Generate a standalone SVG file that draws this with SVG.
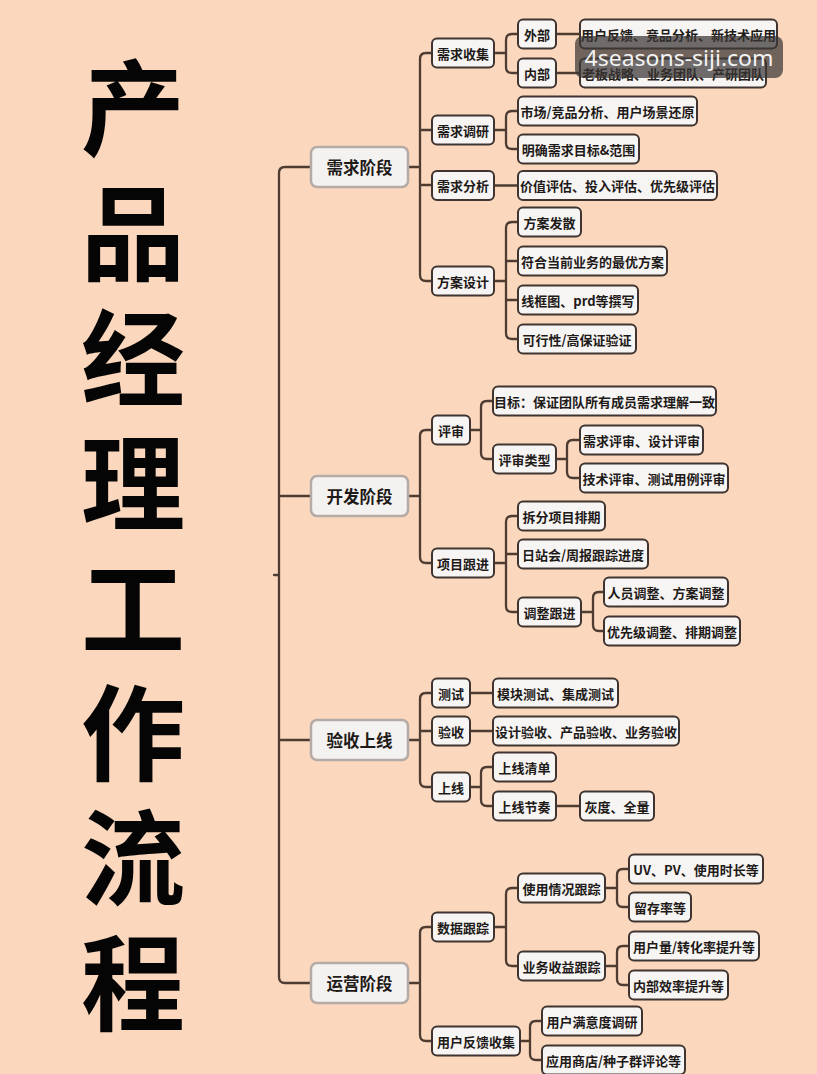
<svg xmlns="http://www.w3.org/2000/svg" width="817" height="1074" viewBox="0 0 817 1074">
<style>
.t{font-family:"Noto Sans CJK SC","Noto Sans",sans-serif;font-weight:700;fill:#1e1a18;text-anchor:middle;dominant-baseline:central}
.n{fill:#f7f5f4;stroke:#3f3430;stroke-width:2}
.s{fill:#f4f2f1;stroke:#b5aba6;stroke-width:2.5}
.nt{font-size:13px}
.st{font-size:16.5px}
.title{font-family:"Noto Sans CJK SC",sans-serif;font-weight:700;font-size:104px;fill:#050505;writing-mode:vertical-rl;letter-spacing:21px}
.c{fill:none;stroke:#4e3b31;stroke-width:2.3;stroke-linecap:round}
</style>
<rect width="817" height="1074" fill="#fbd8bd"/>
<g id="title">
<text class="title" x="133" y="56">产品经理工作流程</text>
</g>
<g id="connectors" class="c">
<path d="M311,167 H285 Q279,167 279,173 V977 Q279,983 285,983 H311 M279,496 H311 M279,740 H311 M274,575 H279"/>
<path d="M408,167 H420 M432,53 H426 Q420,53 420,59 V275 Q420,281 426,281 H432 M420,130 H432 M420,185 H432"/>
<path d="M494,53 H506 M518,34 H512 Q506,34 506,40 V67 Q506,73 512,73 H518 M556,34 H580 M556,73 H580"/>
<path d="M494,130 H506 M518,111 H512 Q506,111 506,117 V143 Q506,149 512,149 H518"/>
<path d="M494,185.5 H518"/>
<path d="M494,281 H506 M518,222 H512 Q506,222 506,228 V333 Q506,339 512,339 H518 M506,261 H518 M506,300 H518"/>
<path d="M408,496 H420 M432,430 H426 Q420,430 420,436 V557 Q420,563 426,563 H432"/>
<path d="M470,430 H481 M493,401 H487 Q481,401 481,407 V453 Q481,459 487,459 H493"/>
<path d="M556,459 H567 M580,440 H573 Q567,440 567,446 V472 Q567,478 573,478 H580"/>
<path d="M494,563 H506 M518,516 H512 Q506,516 506,522 V606 Q506,612 512,612 H518 M506,554 H518"/>
<path d="M581,612 H593 M604,592 H599 Q593,592 593,598 V625 Q593,631 599,631 H604"/>
<path d="M408,740 H420 M432,693 H426 Q420,693 420,699 V781 Q420,787 426,787 H432 M420,731 H432"/>
<path d="M470,693 H493 M470,731 H493"/>
<path d="M470,787 H481 M493,767 H487 Q481,767 481,773 V800 Q481,806 487,806 H493 M556,806 H580"/>
<path d="M408,983 H420 M432,927 H426 Q420,927 420,933 V1035 Q420,1041 426,1041 H432"/>
<path d="M494,927 H506 M518,888 H512 Q506,888 506,894 V960 Q506,966 512,966 H518"/>
<path d="M605,888 H617 M629,869 H623 Q617,869 617,875 V901 Q617,907 623,907 H629"/>
<path d="M605,966 H617 M629,946 H623 Q617,946 617,952 V979 Q617,985 623,985 H629"/>
<path d="M520,1041 H530 M542,1021 H536 Q530,1021 530,1027 V1054 Q530,1060 536,1060 H542"/>
</g>
<g id="s1"><rect class="s" x="311" y="147" width="97" height="40" rx="6"/><text class="t st" x="359.5" y="167">需求阶段</text></g>
<g id="s2"><rect class="s" x="311" y="476" width="97" height="40" rx="6"/><text class="t st" x="359.5" y="496">开发阶段</text></g>
<g id="s3"><rect class="s" x="311" y="720" width="97" height="40" rx="6"/><text class="t st" x="359.5" y="740">验收上线</text></g>
<g id="s4"><rect class="s" x="311" y="963" width="97" height="40" rx="6"/><text class="t st" x="359.5" y="983">运营阶段</text></g>
<g id="n_xqsj"><rect class="n" x="432" y="38.5" width="62" height="29" rx="5"/><text class="t nt" x="463" y="53">需求收集</text></g>
<g id="n_xqdy"><rect class="n" x="432" y="115.5" width="62" height="29" rx="5"/><text class="t nt" x="463" y="130">需求调研</text></g>
<g id="n_xqfx"><rect class="n" x="432" y="171" width="62" height="29" rx="5"/><text class="t nt" x="463" y="185.5">需求分析</text></g>
<g id="n_fasj"><rect class="n" x="432" y="266.5" width="62" height="29" rx="5"/><text class="t nt" x="463" y="281">方案设计</text></g>
<g id="n_ps"><rect class="n" x="432" y="415.5" width="38" height="29" rx="5"/><text class="t nt" x="451" y="430">评审</text></g>
<g id="n_xmgj"><rect class="n" x="432" y="548.5" width="62" height="29" rx="5"/><text class="t nt" x="463" y="563">项目跟进</text></g>
<g id="n_cs"><rect class="n" x="432" y="678.5" width="38" height="29" rx="5"/><text class="t nt" x="451" y="693">测试</text></g>
<g id="n_ys"><rect class="n" x="432" y="716.5" width="38" height="29" rx="5"/><text class="t nt" x="451" y="731">验收</text></g>
<g id="n_sx"><rect class="n" x="432" y="772.5" width="38" height="29" rx="5"/><text class="t nt" x="451" y="787">上线</text></g>
<g id="n_sjgz"><rect class="n" x="432" y="912.5" width="62" height="29" rx="5"/><text class="t nt" x="463" y="927">数据跟踪</text></g>
<g id="n_yhfk"><rect class="n" x="432" y="1026.5" width="88" height="29" rx="5"/><text class="t nt" x="476" y="1041">用户反馈收集</text></g>
<g id="n_wb"><rect class="n" x="518" y="19.5" width="38" height="29" rx="5"/><text class="t nt" x="537" y="34">外部</text></g>
<g id="n_nb"><rect class="n" x="518" y="58.5" width="38" height="29" rx="5"/><text class="t nt" x="537" y="73">内部</text></g>
<g id="n_wb1"><rect class="n" x="580" y="19.5" width="197" height="29" rx="5"/><text class="t nt" x="678.5" y="34">用户反馈、竞品分析、新技术应用</text></g>
<g id="n_nb1"><rect class="n" x="580" y="58.5" width="186" height="29" rx="5"/><text class="t nt" x="673" y="73">老板战略、业务团队、产研团队</text></g>
<g id="n_dy1"><rect class="n" x="518" y="96.5" width="179" height="29" rx="5"/><text class="t nt" x="607.5" y="111">市场/竞品分析、用户场景还原</text></g>
<g id="n_dy2"><rect class="n" x="518" y="134.5" width="121" height="29" rx="5"/><text class="t nt" x="578.5" y="149">明确需求目标&amp;范围</text></g>
<g id="n_fx1"><rect class="n" x="518" y="171" width="199" height="29" rx="5"/><text class="t nt" x="617.5" y="185.5">价值评估、投入评估、优先级评估</text></g>
<g id="n_fa1"><rect class="n" x="518" y="207.5" width="63" height="29" rx="5"/><text class="t nt" x="549.5" y="222">方案发散</text></g>
<g id="n_fa2"><rect class="n" x="518" y="246.5" width="149" height="29" rx="5"/><text class="t nt" x="592.5" y="261">符合当前业务的最优方案</text></g>
<g id="n_fa3"><rect class="n" x="518" y="285.5" width="120" height="29" rx="5"/><text class="t nt" x="578" y="300">线框图、prd等撰写</text></g>
<g id="n_fa4"><rect class="n" x="518" y="324.5" width="118" height="29" rx="5"/><text class="t nt" x="577" y="339">可行性/高保证验证</text></g>
<g id="n_ps1"><rect class="n" x="493" y="386.5" width="223" height="29" rx="5"/><text class="t nt" x="604.5" y="401">目标：保证团队所有成员需求理解一致</text></g>
<g id="n_pslx"><rect class="n" x="493" y="444.5" width="63" height="29" rx="5"/><text class="t nt" x="524.5" y="459">评审类型</text></g>
<g id="n_ps2"><rect class="n" x="580" y="425.5" width="123" height="29" rx="5"/><text class="t nt" x="641.5" y="440">需求评审、设计评审</text></g>
<g id="n_ps3"><rect class="n" x="580" y="463.5" width="148" height="29" rx="5"/><text class="t nt" x="654" y="478">技术评审、测试用例评审</text></g>
<g id="n_gj1"><rect class="n" x="518" y="501.5" width="87" height="29" rx="5"/><text class="t nt" x="561.5" y="516">拆分项目排期</text></g>
<g id="n_gj2"><rect class="n" x="518" y="539.5" width="130" height="29" rx="5"/><text class="t nt" x="583" y="554">日站会/周报跟踪进度</text></g>
<g id="n_tzgj"><rect class="n" x="518" y="597.5" width="63" height="29" rx="5"/><text class="t nt" x="549.5" y="612">调整跟进</text></g>
<g id="n_tz1"><rect class="n" x="604" y="577.5" width="124" height="29" rx="5"/><text class="t nt" x="666" y="592">人员调整、方案调整</text></g>
<g id="n_tz2"><rect class="n" x="604" y="616.5" width="136" height="29" rx="5"/><text class="t nt" x="672" y="631">优先级调整、排期调整</text></g>
<g id="n_cs1"><rect class="n" x="493" y="678.5" width="125" height="29" rx="5"/><text class="t nt" x="555.5" y="693">模块测试、集成测试</text></g>
<g id="n_ys1"><rect class="n" x="493" y="716.5" width="186" height="29" rx="5"/><text class="t nt" x="586" y="731">设计验收、产品验收、业务验收</text></g>
<g id="n_sxqd"><rect class="n" x="493" y="752.5" width="63" height="29" rx="5"/><text class="t nt" x="524.5" y="767">上线清单</text></g>
<g id="n_sxjz"><rect class="n" x="493" y="791.5" width="63" height="29" rx="5"/><text class="t nt" x="524.5" y="806">上线节奏</text></g>
<g id="n_hd"><rect class="n" x="580" y="791.5" width="74" height="29" rx="5"/><text class="t nt" x="617" y="806">灰度、全量</text></g>
<g id="n_syqk"><rect class="n" x="518" y="873.5" width="87" height="29" rx="5"/><text class="t nt" x="561.5" y="888">使用情况跟踪</text></g>
<g id="n_uv"><rect class="n" x="629" y="854.5" width="134" height="29" rx="5"/><text class="t nt" x="696" y="869">UV、PV、使用时长等</text></g>
<g id="n_lc"><rect class="n" x="629" y="892.5" width="62" height="29" rx="5"/><text class="t nt" x="660" y="907">留存率等</text></g>
<g id="n_ywsy"><rect class="n" x="518" y="951.5" width="87" height="29" rx="5"/><text class="t nt" x="561.5" y="966">业务收益跟踪</text></g>
<g id="n_yhl"><rect class="n" x="629" y="931.5" width="130" height="29" rx="5"/><text class="t nt" x="694" y="946">用户量/转化率提升等</text></g>
<g id="n_nbxl"><rect class="n" x="629" y="970.5" width="99" height="29" rx="5"/><text class="t nt" x="678.5" y="985">内部效率提升等</text></g>
<g id="n_myd"><rect class="n" x="542" y="1006.5" width="100" height="29" rx="5"/><text class="t nt" x="592" y="1021">用户满意度调研</text></g>
<g id="n_yysd"><rect class="n" x="542" y="1045.5" width="143" height="29" rx="5"/><text class="t nt" x="613.5" y="1060">应用商店/种子群评论等</text></g>
<g id="watermark">
<rect x="575" y="36" width="208" height="42" rx="8" fill="#3a3634" fill-opacity="0.72"/>
<text x="679" y="66" font-family="Noto Sans, DejaVu Sans, sans-serif" font-size="22" fill="#f2f2f2" text-anchor="middle" textLength="189" lengthAdjust="spacingAndGlyphs">4seasons-siji.com</text>
</g>
</svg>
